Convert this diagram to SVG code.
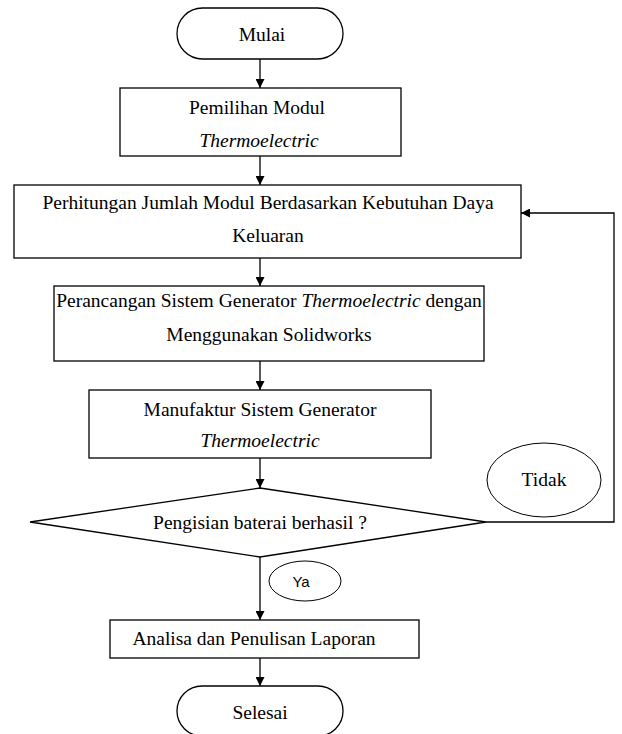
<svg xmlns="http://www.w3.org/2000/svg" width="622" height="734" viewBox="0 0 622 734">
<style>
.box{fill:#fff;stroke:#000;stroke-width:1.3}
.ell{fill:#fff;stroke:#000;stroke-width:1}
.t{font-family:"Liberation Serif","Times New Roman",serif;font-size:19.5px;fill:#000;text-anchor:middle}
.i{font-style:italic}
.s{font-family:"Liberation Sans",Arial,sans-serif;font-size:15px;fill:#000;text-anchor:middle}
.c{fill:none;stroke:#000;stroke-width:1.3}
</style>
<defs>
<marker id="ah" viewBox="0 0 10 10" refX="10" refY="5" markerWidth="9" markerHeight="9" markerUnits="userSpaceOnUse" orient="auto">
<path d="M0,0 L10,5 L0,10 z" fill="#000"/>
</marker>
</defs>
<rect width="622" height="734" fill="#fff"/>
<g id="connectors">
<line class="c" x1="260" y1="59" x2="260" y2="88" marker-end="url(#ah)"/>
<line class="c" x1="260" y1="156" x2="260" y2="185" marker-end="url(#ah)"/>
<line class="c" x1="260" y1="258" x2="260" y2="286" marker-end="url(#ah)"/>
<line class="c" x1="260" y1="361" x2="260" y2="390" marker-end="url(#ah)"/>
<line class="c" x1="260" y1="458" x2="260" y2="488" marker-end="url(#ah)"/>
<polyline class="c" points="486,522 614,522 614,213 521,213" marker-end="url(#ah)"/>
<line class="c" x1="260" y1="557" x2="260" y2="620" marker-end="url(#ah)"/>
<line class="c" x1="260" y1="658" x2="260" y2="686" marker-end="url(#ah)"/>
</g>
<g id="mulai">
<rect class="box" x="177" y="8" width="166" height="51" rx="25.5"/>
<text class="t" x="262" y="41">Mulai</text>
</g>
<g id="pemilihan">
<rect class="box" x="120" y="88" width="281" height="68"/>
<text class="t" x="257" y="114">Pemilihan Modul</text>
<text class="t i" x="259" y="147">Thermoelectric</text>
</g>
<g id="perhitungan">
<rect class="box" x="14" y="185" width="507" height="73"/>
<text class="t" x="268" y="209">Perhitungan Jumlah Modul Berdasarkan Kebutuhan Daya</text>
<text class="t" x="268" y="242">Keluaran</text>
</g>
<g id="perancangan">
<rect class="box" x="54" y="286" width="430" height="75"/>
<text class="t" x="269" y="307">Perancangan Sistem Generator <tspan class="i">Thermoelectric</tspan> dengan</text>
<text class="t" x="269" y="341">Menggunakan Solidworks</text>
</g>
<g id="manufaktur">
<rect class="box" x="89" y="390" width="342" height="68"/>
<text class="t" x="260" y="416">Manufaktur Sistem Generator</text>
<text class="t i" x="260" y="447">Thermoelectric</text>
</g>
<g id="keputusan">
<polygon class="box" points="260,488 486,522 260,557 30,522"/>
<text class="t" x="260" y="529">Pengisian baterai berhasil ?</text>
</g>
<g id="tidak">
<ellipse class="ell" cx="544" cy="480" rx="57" ry="37"/>
<text class="t" x="544" y="486">Tidak</text>
</g>
<g id="ya">
<ellipse class="ell" cx="305" cy="581" rx="36" ry="20"/>
<text class="s" x="301" y="587">Ya</text>
</g>
<g id="analisa">
<rect class="box" x="110" y="620" width="309" height="38"/>
<text class="t" x="254" y="645">Analisa dan Penulisan Laporan</text>
</g>
<g id="selesai">
<rect class="box" x="177" y="686" width="166" height="50" rx="25"/>
<text class="t" x="260" y="719">Selesai</text>
</g>
</svg>
